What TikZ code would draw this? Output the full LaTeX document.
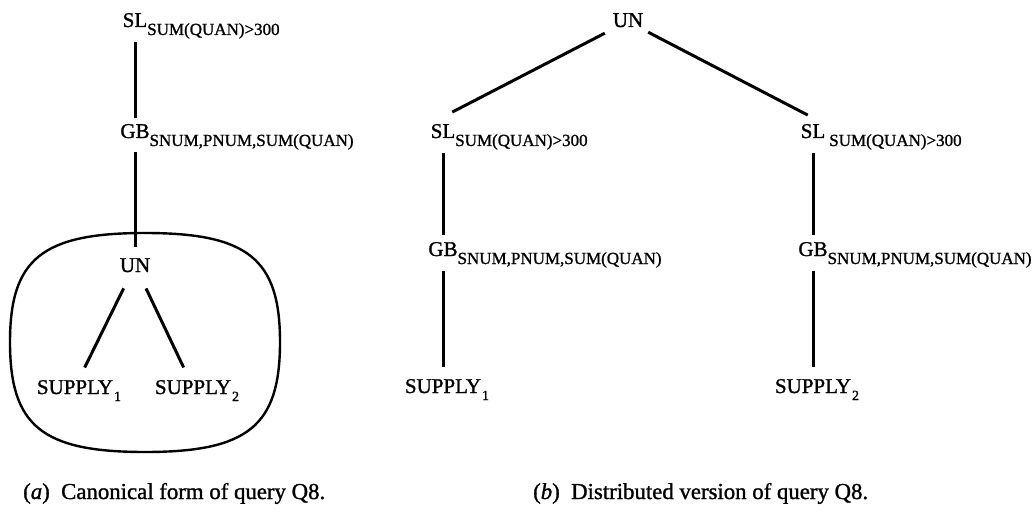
\documentclass[tikz,border=0pt]{standalone}
\usepackage{fontspec}
\setmainfont{Liberation Serif}
\newfontfamily\heavyserif{Liberation Serif}[FakeBold=1.2]
\usetikzlibrary{calc}
\tikzset{
  op/.style={inner sep=0pt, outer sep=0pt, anchor=base, font=\heavyserif\fontsize{21}{21}\selectfont},
  sub/.style={inner sep=0pt, outer sep=0pt, anchor=base west, font=\heavyserif\fontsize{17}{17}\selectfont},
  idx/.style={inner sep=0pt, outer sep=0pt, anchor=base west, font=\heavyserif\fontsize{14}{14}\selectfont},
  edge/.style={line width=3pt},
  frame/.style={line width=2.4pt},
  caption/.style={inner sep=0pt, anchor=base west, font=\heavyserif\fontsize{22.8}{22.8}\selectfont},
}
\begin{document}
\begin{tikzpicture}[x=1pt, y=-1pt]
  \fill[white] (0,0) rectangle (1032,513);
  \useasboundingbox (0,0) rectangle (1032,513);

  % ---- (a) canonical form ----
  \node[op] (slA) at (135,27) {SL};
  \node[sub] (slAs) at ([yshift=-8pt]slA.base east) {SUM(QUAN)>300};
  \node[op] (gbA) at (135,138) {GB};
  \node[sub] (gbAs) at ([yshift=-8pt]gbA.base east) {SNUM,PNUM,SUM(QUAN)};
  \node[op] (unA) at (135,272) {UN};
  \node[op] (supA1) at (75,394) {SUPPLY};
  \node[idx] (supA1s) at ([shift={(1pt,-7pt)}]supA1.base east) {1};
  \node[op] (supA2) at (193,394) {SUPPLY};
  \node[idx] (supA2s) at ([shift={(1pt,-7pt)}]supA2.base east) {2};

  % fragment frame round the union
  \draw[frame] (145,233) .. controls (248,233) and (280,259) .. (280,342)
               .. controls (280,426) and (248,452) .. (145,452)
               .. controls (42,452) and (10,426) .. (10,342)
               .. controls (10,259) and (42,233) .. (145,233) -- cycle;

  \draw[edge, shorten <=15pt, shorten >=6pt] (slA.south) -- (gbA.north);
  \draw[edge, shorten <=14pt, shorten >=11pt] (gbA.south) -- (unA.north);
  \draw[edge, shorten <=18pt, shorten >=14pt] (unA) -- (supA1);
  \draw[edge, shorten <=18pt, shorten >=14pt] (unA) -- (supA2);

  % ---- (b) distributed version ----
  \node[op] (unB) at (628,27) {UN};
  \node[op] (slB1) at (443,138) {SL};
  \node[sub] (slB1s) at ([yshift=-8pt]slB1.base east) {SUM(QUAN)>300};
  \node[op] (gbB1) at (443,256) {GB};
  \node[sub] (gbB1s) at ([yshift=-8pt]gbB1.base east) {SNUM,PNUM,SUM(QUAN)};
  \node[op] (supB1) at (443,393) {SUPPLY};
  \node[idx] (supB1s) at ([shift={(1pt,-7pt)}]supB1.base east) {1};

  \node[op] (slB2) at (813,138) {SL};
  \node[sub] (slB2s) at ([shift={(4pt,-8pt)}]slB2.base east) {SUM(QUAN)>300};
  \node[op] (gbB2) at (813,256) {GB};
  \node[sub] (gbB2s) at ([yshift=-8pt]gbB2.base east) {SNUM,PNUM,SUM(QUAN)};
  \node[op] (supB2) at (813,393) {SUPPLY};
  \node[idx] (supB2s) at ([shift={(1pt,-7pt)}]supB2.base east) {2};

  \draw[edge] ($(unB.south west)+(-8,6)$) -- ($(slB1.north east)+(-3,-12)$);
  \draw[edge] ($(unB.south east)+(5,5)$) -- ($(slB2.north west)+(7,-9)$);
  \draw[edge, shorten <=15pt, shorten >=7pt] (slB1.south) -- (gbB1.north);
  \draw[edge, shorten <=15pt, shorten >=12pt] (gbB1.south) -- (supB1.north);
  \draw[edge, shorten <=15pt, shorten >=7pt] (slB2.south) -- (gbB2.north);
  \draw[edge, shorten <=15pt, shorten >=12pt] (gbB2.south) -- (supB2.north);

  % ---- captions ----
  \node[caption] (capA) at (23,499) {(\textit{a})\enspace Canonical form of query Q8.};
  \node[caption] (capB) at (533,499) {(\textit{b})\enspace Distributed version of query Q8.};
\end{tikzpicture}
\end{document}
